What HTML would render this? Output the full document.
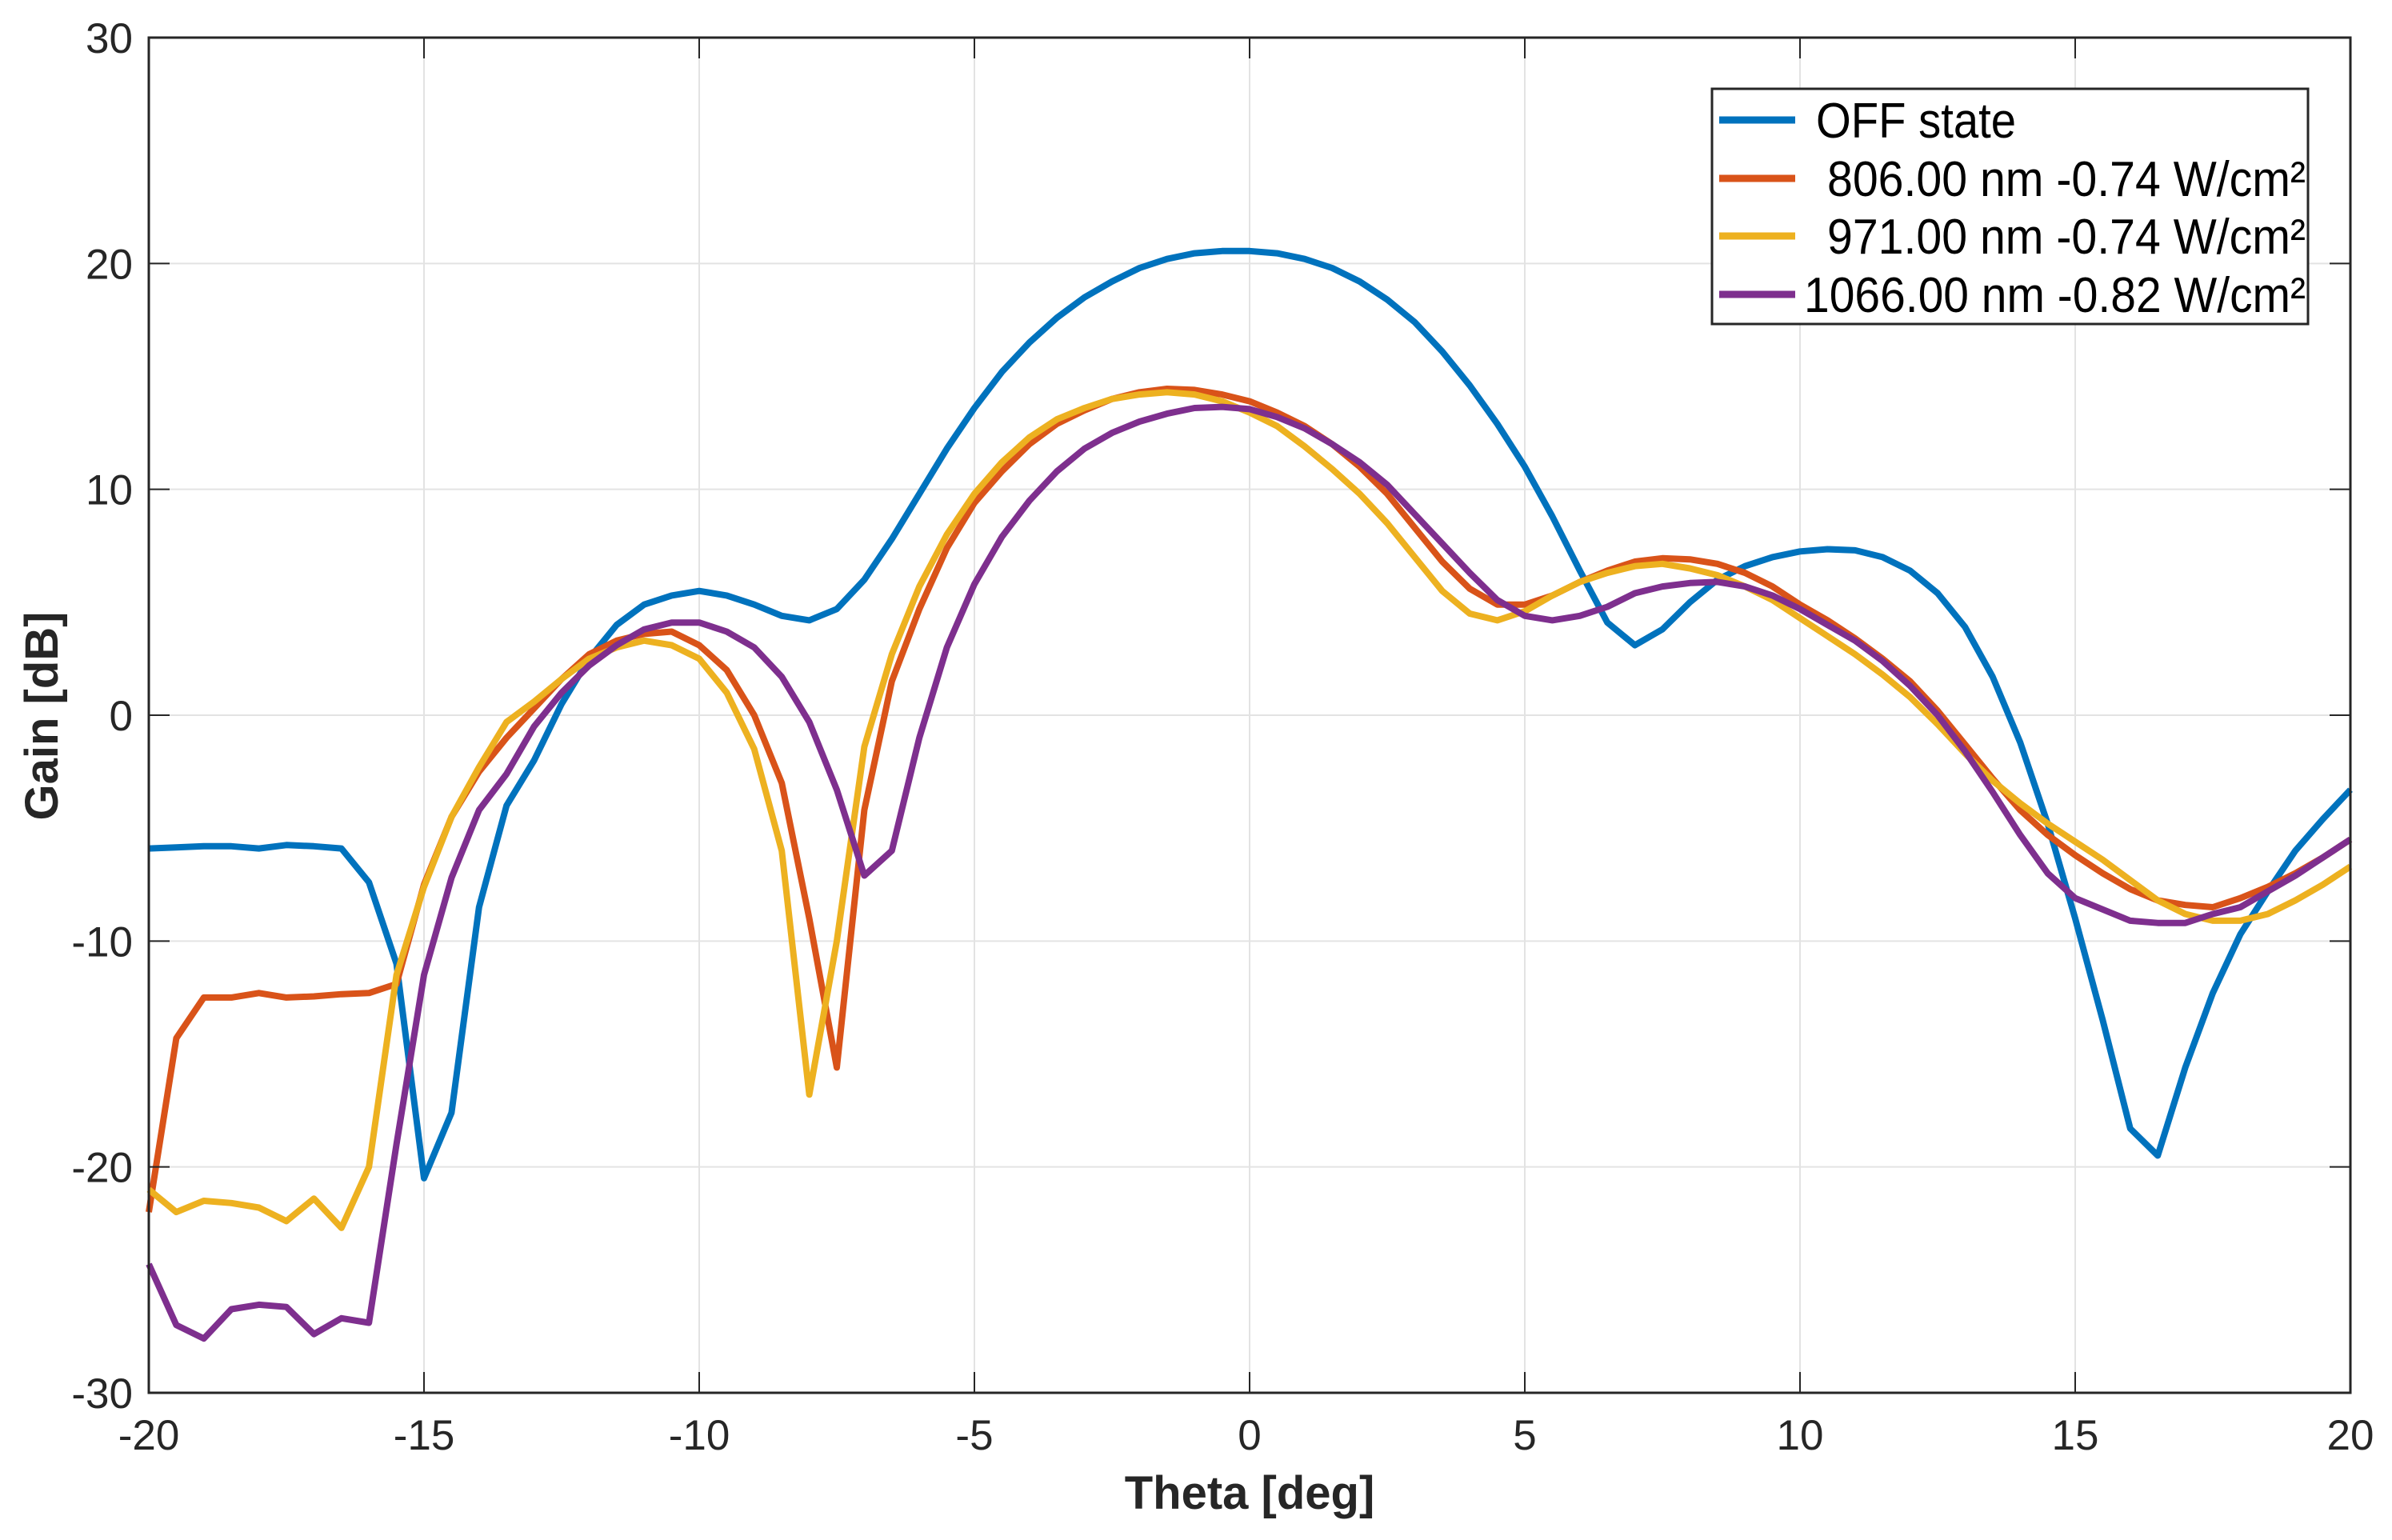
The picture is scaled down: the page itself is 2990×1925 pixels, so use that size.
<!DOCTYPE html>
<html><head><meta charset="utf-8"><style>
html,body{margin:0;padding:0;background:#fff;}
svg{display:block;font-family:"Liberation Sans",sans-serif;}
</style></head><body>
<svg id="chart" width="2990" height="1925" viewBox="0 0 2990 1925" xmlns="http://www.w3.org/2000/svg">
<rect x="0" y="0" width="2990" height="1925" fill="#fff"/>
<g id="grid"></g><g id="series"></g><g id="axes"></g>
<text x="1562" y="1886" font-size="58" font-weight="bold" text-anchor="middle" fill="#262626">Theta [deg]</text>
<text transform="translate(72,895) rotate(-90)" font-size="58" font-weight="bold" text-anchor="middle" fill="#262626">Gain [dB]</text>
<g id="legend"></g>
</svg>
<script>
const thetas = [];
for (let i = 0; i <= 80; i++) thetas.push(-20 + i * 0.5);
const offState = [-5.9,-5.85,-5.8,-5.8,-5.9,-5.75,-5.8,-5.9,-7.4,-11,-20.5,-17.6,-8.5,-4,-2,0.5,2.5,4,4.9,5.3,5.5,5.3,4.9,4.4,4.2,4.7,6,7.8,9.8,11.8,13.6,15.2,16.5,17.6,18.5,19.2,19.8,20.2,20.45,20.55,20.55,20.45,20.2,19.8,19.2,18.4,17.4,16.1,14.6,12.9,11,8.8,6.4,4.1,3.1,3.8,5,6,6.6,7,7.25,7.35,7.3,7.0,6.4,5.4,3.9,1.7,-1.2,-4.8,-9,-13.5,-18.3,-19.5,-15.6,-12.3,-9.7,-7.8,-6,-4.6,-3.3];
const nm806 = [-22,-14.3,-12.5,-12.5,-12.3,-12.5,-12.45,-12.35,-12.3,-11.9,-7.5,-4.5,-2.5,-1,0.3,1.6,2.7,3.3,3.6,3.7,3.1,2,0,-3,-9,-15.6,-4.2,1.5,4.7,7.4,9.4,10.8,12,12.9,13.5,14,14.3,14.45,14.4,14.2,13.9,13.4,12.8,12,11,9.8,8.3,6.8,5.6,4.9,4.9,5.3,5.9,6.4,6.8,6.95,6.9,6.7,6.3,5.7,4.9,4.2,3.4,2.5,1.5,0.2,-1.3,-2.8,-4.2,-5.3,-6.2,-7.0,-7.7,-8.2,-8.4,-8.5,-8.1,-7.6,-7,-6.3,-5.5];
const nm971 = [-21,-22,-21.5,-21.6,-21.8,-22.4,-21.4,-22.7,-20,-11.5,-7.6,-4.5,-2.3,-0.3,0.6,1.6,2.5,3.0,3.3,3.1,2.5,1.0,-1.5,-6,-16.8,-10,-1.4,2.7,5.7,8,9.8,11.2,12.3,13.1,13.6,14.0,14.2,14.3,14.2,13.9,13.4,12.8,11.9,10.9,9.8,8.5,7,5.5,4.5,4.2,4.6,5.3,5.9,6.3,6.6,6.7,6.5,6.2,5.7,5.1,4.3,3.5,2.7,1.8,0.8,-0.4,-1.7,-2.9,-3.9,-4.8,-5.6,-6.4,-7.3,-8.2,-8.8,-9.1,-9.1,-8.8,-8.2,-7.5,-6.7];
const nm1066 = [-24.3,-27,-27.6,-26.3,-26.1,-26.2,-27.4,-26.7,-26.9,-19,-11.5,-7.2,-4.2,-2.6,-0.5,1,2.2,3.1,3.8,4.1,4.1,3.7,3,1.7,-0.3,-3.3,-7.1,-6,-1,3,5.8,7.9,9.5,10.8,11.8,12.5,13.0,13.35,13.6,13.65,13.55,13.2,12.7,12.0,11.2,10.2,8.9,7.6,6.3,5.1,4.4,4.2,4.4,4.8,5.4,5.7,5.85,5.9,5.7,5.3,4.7,4,3.3,2.4,1.3,0,-1.6,-3.4,-5.3,-7,-8.1,-8.6,-9.1,-9.2,-9.2,-8.8,-8.5,-7.8,-7.1,-6.3,-5.5];
const seriesNames = ["OFF state","806.00 nm -0.74 W/cm\u00b2","971.00 nm -0.74 W/cm\u00b2","1066.00 nm -0.82 W/cm\u00b2"];
const xTicks = [-20,-15,-10,-5,0,5,10,15,20];
const yTicks = [-30,-20,-10,0,10,20,30];

const NS="http://www.w3.org/2000/svg";
const L=186,R=2938,T=47,B=1741;
const xs=v=>L+(v+20)/40*(R-L);
const ys=v=>B-(v+30)/60*(B-T);
function mk(tag,attrs,parent){const e=document.createElementNS(NS,tag);for(const k in attrs)e.setAttribute(k,attrs[k]);parent.appendChild(e);return e;}
const grid=document.getElementById('grid'),axes=document.getElementById('axes'),ser=document.getElementById('series'),leg=document.getElementById('legend');
xTicks.forEach(t=>{
  const g=mk('line',{x1:xs(t),x2:xs(t),y1:T,y2:B,stroke:'#e3e3e3','stroke-width':2},grid);
  
  
  mk('line',{x1:xs(t),x2:xs(t),y1:B,y2:B-26,stroke:'#262626','stroke-width':2},axes);
  mk('line',{x1:xs(t),x2:xs(t),y1:T,y2:T+26,stroke:'#262626','stroke-width':2},axes);
  const tx=mk('text',{x:xs(t),y:1812,'font-size':53,'text-anchor':'middle',fill:'#262626'},axes);
  tx.textContent=t;
  
  
});
yTicks.forEach(t=>{
  const g=mk('line',{x1:L,x2:R,y1:ys(t),y2:ys(t),stroke:'#e3e3e3','stroke-width':2},grid);
  
  
  mk('line',{x1:L,x2:L+26,y1:ys(t),y2:ys(t),stroke:'#262626','stroke-width':2},axes);
  mk('line',{x1:R,x2:R-26,y1:ys(t),y2:ys(t),stroke:'#262626','stroke-width':2},axes);
  const tx=mk('text',{x:166,y:ys(t)+19,'font-size':53,'text-anchor':'end',fill:'#262626'},axes);
  tx.textContent=t;
  
  
});
const frame=mk('rect',{x:L,y:T,width:R-L,height:B-T,fill:'none',stroke:'#262626','stroke-width':3},axes);


const colors=['#0072BD','#D95319','#EDB120','#7E2F8E'];
const data=[offState,nm806,nm971,nm1066];
const sNames=['off-state-line','806nm-line','971nm-line','1066nm-line'];
data.forEach((arr,i)=>{
  const d=arr.map((v,j)=>(j?'L':'M')+xs(thetas[j]).toFixed(1)+' '+ys(v).toFixed(1)).join(' ');
  const p=mk('path',{d:d,fill:'none',stroke:colors[i],'stroke-width':8,'stroke-linejoin':'round'},ser);
  
  
});
const lb=mk('rect',{x:2140,y:111,width:745,height:294,fill:'#fff',stroke:'#262626','stroke-width':3},leg);


const ly=[150,223,295,368];
const lx=[2270,2284,2284,2255];
const lw=[250,598,598,627];
seriesNames.forEach((n,i)=>{
  mk('line',{x1:2149,x2:2244,y1:ly[i],y2:ly[i],stroke:colors[i],'stroke-width':9},leg);
  const tx=mk('text',{x:lx[i],y:ly[i]+22,'font-size':62,fill:'#000',textLength:lw[i],lengthAdjust:'spacingAndGlyphs'},leg);
  tx.textContent=n;
  
  
});
</script>
</body></html>
